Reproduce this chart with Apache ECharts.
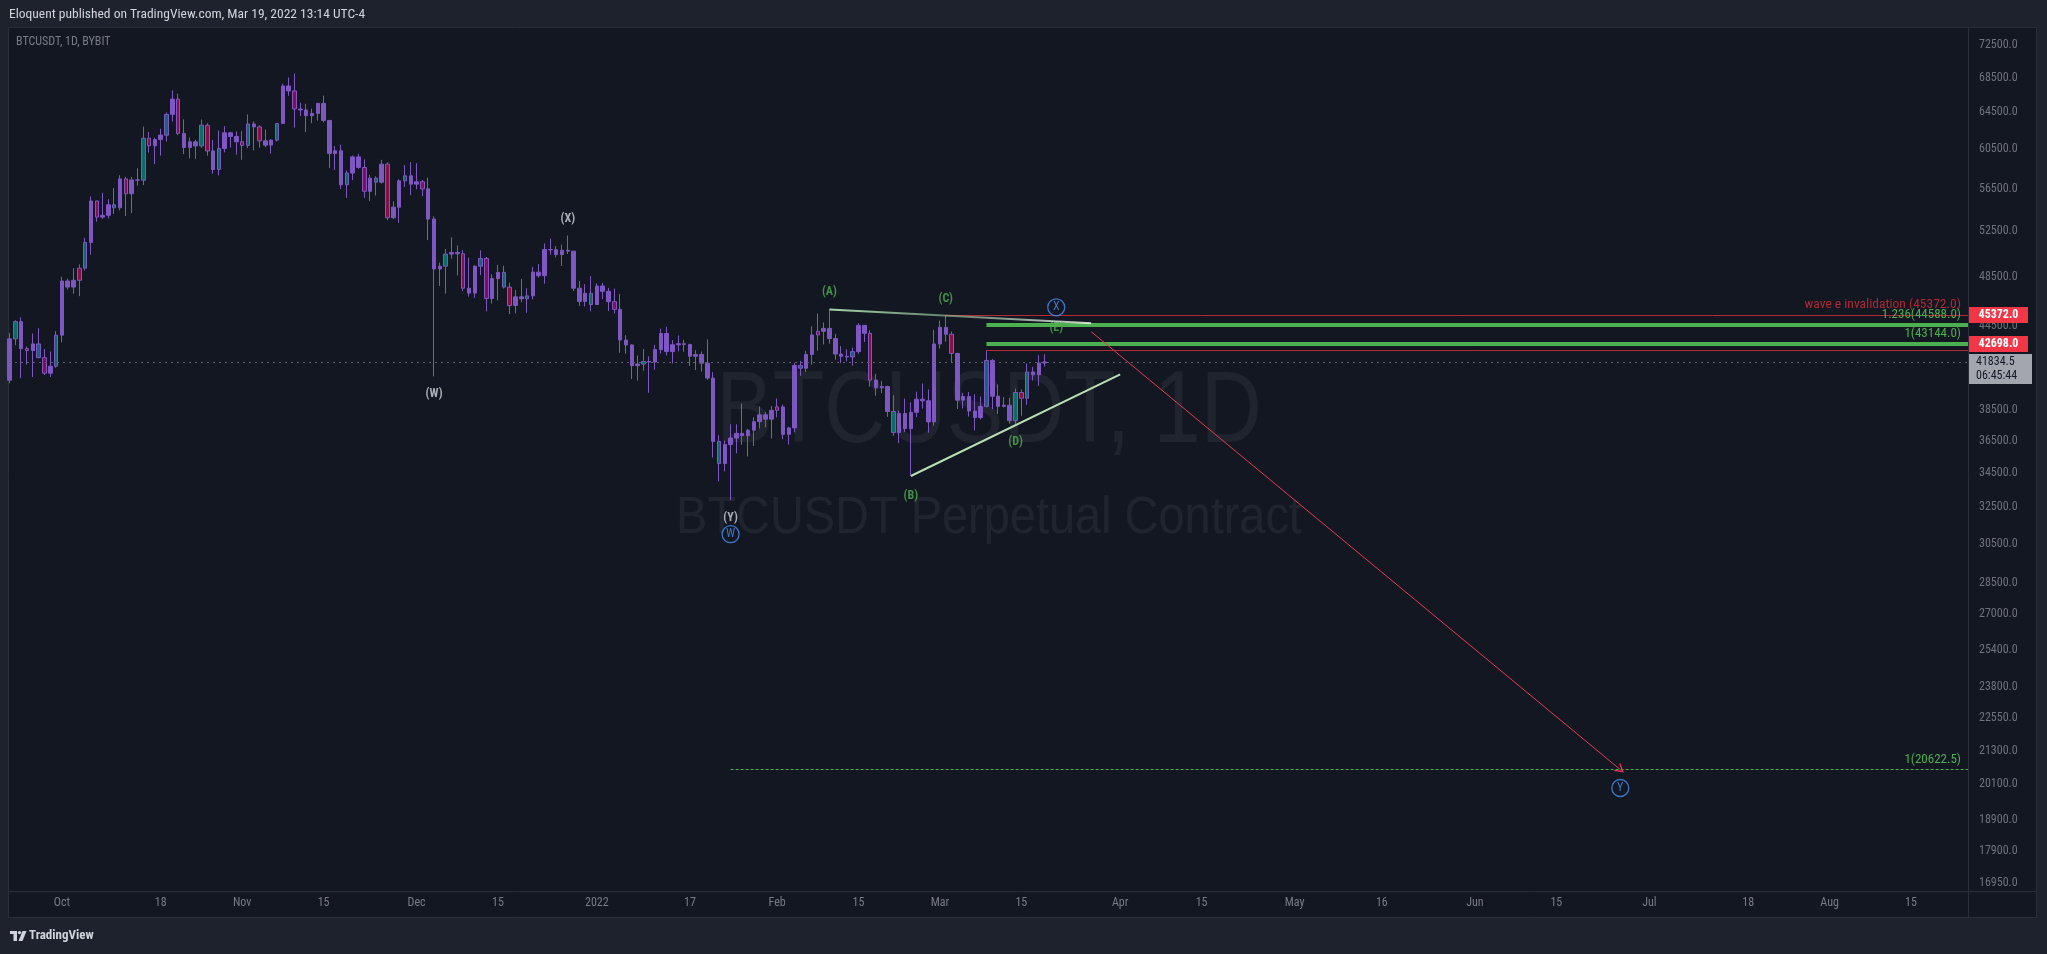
<!DOCTYPE html>
<html><head><meta charset="utf-8">
<script src="https://cdn.jsdelivr.net/npm/echarts@6/dist/echarts.min.js"></script>
<style>html,body{margin:0;padding:0;background:#1e222d;}#c{width:2047px;height:954px;}</style>
</head><body><div id="c"></div>
<script>
// ---------------- DATA ----------------
const firstDate = '2021-09-22';
const opens = [
 40527,43543,44865,42810,42670,43160,42147,41025,41524,
 43820,48141,47634,48200,49224,51471,55315,53785,53955,54949,54659,57471,56006,57370,57347,61673,60875,61528,62005,64280,66002,62193,60689,61286,60853,63078,60329,58413,60575,62253,61859,
 61300,60911,63220,62896,61396,60941,61470,63273,67525,66947,64883,64774,64123,64380,65519,63606,60058,60344,56891,58057,59707,58617,56247,57541,57139,58960,53723,54716,57274,57776,
 56950,57184,56485,53601,49152,49397,50441,50588,50472,47535,47141,49389,50053,46702,48336,48864,47632,46134,46834,46681,46914,48887,48588,50839,50820,50400,50776,50701,47544,46464,47121,
 46216,47722,47286,46446,45832,43451,43082,41566,41680,41864,41822,42735,43949,42592,43099,43178,43113,42251,42375,41744,40680,36445,35071,36244,36660,36958,36810,37160,37716,38166,37881,
 38466,38694,36897,37311,41571,41382,42380,43840,44118,44339,43565,42407,42244,42197,42586,44575,43961,40538,40000,40087,38386,37009,38250,37264,38333,39214,39106,37700,
 43160,44420,43892,42455,39148,39397,38420,37988,38730,41941,39422,38730,38807,37777,39671,39280,41114,40917,41757
];
const highs = [
 44000,44978,45200,42971,43950,44350,42787,42590,44132,
 48495,48336,49228,49536,51886,55750,55332,56100,55489,56561,57840,57680,57666,58532,62933,62350,61720,62695,64486,67000,66639,63732,61747,61500,63711,63293,61496,62499,62980,62359,62405,
 62437,64270,63500,63086,62603,61560,63286,67789,68524,69000,65600,65460,64915,65550,66401,63617,60840,60976,58320,59845,60029,59444,57875,57735,59398,59150,55280,57445,58865,59176,
 59053,57375,57600,53859,49699,50891,51936,51200,50797,50125,49485,50777,50189,48700,49500,49436,47995,47392,48300,47537,49328,49576,51375,51810,51156,51280,52088,50704,48139,47879,48548,
 47954,47990,47570,47510,47070,43816,43145,42300,42786,42248,43100,44322,44459,43448,43800,43475,43179,42690,42600,43505,41100,36835,36499,37550,37545,38919,37234,38000,38720,38359,38744,
 39265,38855,37387,41772,41913,42656,44500,45492,44799,45821,43920,43000,42760,42876,44751,44582,44200,40980,40480,40150,39491,38450,39250,39000,39727,40300,39880,44226,
 44950,45372,44096,42506,39650,39700,39549,39400,42698,42039,40236,39364,39310,39947,39887,41718,41478,42325,42400
];
const lows = [
 40300,43069,40675,41646,40750,42098,40888,40753,41410,
 43283,47430,47088,46891,49022,50382,53357,53617,53661,54080,54415,53879,54167,56818,56850,60150,58963,59844,61322,63481,62000,60000,59562,59510,60650,59818,58000,57820,60174,60673,59945,
 59405,60624,60382,60677,60721,60050,61322,63273,66382,62822,64100,62333,63303,63576,63400,58574,58373,56474,55600,57353,58486,55610,55317,55837,57000,53500,53610,53256,56666,55875,
 56458,55777,51680,40800,47727,47100,50039,48600,47320,46852,46751,48638,45672,46290,46547,47511,45456,45500,46406,45558,46630,48421,47920,50384,50142,49412,50449,47313,46096,46060,45678,
 46208,46654,45696,45500,42500,42430,40610,40501,41200,39650,41268,42450,42311,41725,42607,42581,41540,41250,41138,40553,35440,34008,34602,32918,35701,36234,35507,36155,37268,37351,36632,
 38000,36586,36250,37026,40843,41116,41645,42667,43117,43174,42000,41748,41870,41571,42428,43310,40073,39450,39639,38025,36800,36350,37036,34322,38013,38580,37000,37450,
 42811,43335,41832,38550,38587,38050,37155,37856,38657,38539,38223,38660,37578,37555,38098,38828,40500,40135,41500
];
const closes = [
 43543,44865,42810,42670,43160,42147,41026,41524,43824,
 48141,47634,48200,49224,51471,55315,53785,53951,54949,54659,57471,56006,57368,57347,61673,60875,61528,62010,64280,66002,62194,60688,61286,60853,63078,60329,58413,60575,62253,61859,61300,
 60911,63220,62896,61395,60937,61470,63273,67525,66947,64882,64774,64122,64380,65519,63606,60058,60344,56891,58052,59707,58622,56247,57541,57139,58960,53726,54721,57274,57776,56950,
 57184,56480,53601,49152,49396,50441,50588,50471,47545,47140,49389,50053,46702,48343,48864,47632,46131,46834,46681,46914,48890,48588,50839,50820,50400,50775,50701,47543,46464,47120,46216,
 47722,47286,46446,45832,43451,43082,41566,41679,41864,41822,42735,43949,42591,43099,43177,43113,42250,42375,41745,40680,36445,35071,36244,36660,36958,36810,37160,37716,38166,37881,38466,
 38694,36896,37311,41574,41382,42381,43840,44118,44338,43565,42407,42244,42197,42586,44575,43961,40538,40000,40087,38386,37009,38250,37264,38333,39214,39106,37700,43160,
 44420,43892,42454,39148,39397,38420,37988,38730,41941,39422,38730,38807,37777,39671,39280,41114,40917,41757,41834.5
];
// candle tone (p = plain, t = teal body, m = magenta body), month by month
const tones = ('ptpmptmpt' +
 'pppmtpmpptpmpptmpptpmppptmptppp' +
 'mtpmpptppmpppppppptppmptpmpptp' +
 'pmppptppmpptmpptmpptppppppppppt' +
 'pppmpppptppppppmppppptppppppppp' +
 'mppptppmppppptppmppptppppppp' +
 'ppmppppptpppptmtppp').split('');

const priceTicks = [72500,68500,64500,60500,56500,52500,48500,44500,38500,36500,34500,32500,30500,28500,27000,25400,23800,22550,21300,20100,18900,17900,16950];
const timeTickDates  = ['2021-10-01','2021-10-18','2021-11-01','2021-11-15','2021-12-01','2021-12-15','2022-01-01','2022-01-17','2022-02-01','2022-02-15','2022-03-01','2022-03-15','2022-04-01','2022-04-15','2022-05-01','2022-05-16','2022-06-01','2022-06-15','2022-07-01','2022-07-18','2022-08-01','2022-08-15'];
const timeTickLabels = ['Oct','18','Nov','15','Dec','15','2022','17','Feb','15','Mar','15','Apr','15','May','16','Jun','15','Jul','18','Aug','15'];

const waveText  = ['(W)','(X)','(Y)'];
const waveDate  = ['2021-12-04','2021-12-27','2022-01-24'];
const wavePrice = [39570,53580,31890];
const abcText  = ['(A)','(B)','(C)','(D)'];
const abcDate  = ['2022-02-10','2022-02-24','2022-03-02','2022-03-14'];
const abcPrice = [47230,33175,46640,36395];
const hiddenText = ['(E)'], hiddenDate = ['2022-03-21'], hiddenPrice = [44370];
const circText  = ['W','X','Y'];
const circDate  = ['2022-01-24','2022-03-21','2022-06-26'];
const circPrice = [31025,45993,19975];

const invalidation = 45372, invalidationFrom = '2022-03-02';
const fibLevels = [44588,43144], fibText = ['1.236(44588.0)','1(43144.0)'], fibFrom = '2022-03-09';
const lowerRed = 42698, lowerRedFrom = '2022-03-09';
const target = 20622.5, targetFrom = '2022-01-24';
const lastPrice = 41834.5, countdown = '06:45:44';
const upperEdge = [['2022-02-10',45821],['2022-03-27',44733]];
const lowerEdge = [['2022-02-24',34322],['2022-04-01',40935]];
const projection = [['2022-03-27',44094],['2022-06-26',20622.5]];

// ---------------- BUILD ----------------
const DAY = 86400000, t0 = Date.parse(firstDate + 'T00:00:00Z');
const dayOf = s => (Date.parse(s + 'T00:00:00Z') - t0) / DAY;
const X_MIN = -0.097, X_MAX = 336.8;
const FONT = "'Liberation Sans Narrow','Roboto Condensed',Roboto,'Liberation Sans',sans-serif";
const PURPLE = '#7e57c2';
const toneColor = {p: PURPLE, t: '#0b6b70', m: '#880e4f'};
const candles = opens.map((o, i) => {
  const c = toneColor[tones[i]] || PURPLE;
  return {value: [i, o, closes[i], lows[i], highs[i]],
    itemStyle: {color: c, color0: c, borderColor: PURPLE, borderColor0: PURPLE, borderColorDoji: PURPLE, borderWidth: 1}};
});
const tickDays = timeTickDates.map(dayOf);

const hLine = (from, value, style, label) => [
  {coord: [from, value], lineStyle: style, label: label || {show: false}, symbol: 'none'},
  {coord: [X_MAX, value], symbol: 'none'}
];
const markData = [
  hLine(X_MIN, lastPrice, {color: '#5d606b', width: 1, type: [2, 4]}),
  hLine(dayOf(targetFrom), target, {color: '#4caf50', width: 1, type: [3, 2]},
    {show: true, position: 'insideEndTop', formatter: '1(20622.5)', color: '#4caf50', fontSize: 13, fontFamily: FONT, distance: [7, 3]}),
  hLine(dayOf(invalidationFrom), invalidation, {color: '#b22833', width: 1, type: 'solid'},
    {show: true, position: 'insideEndTop', formatter: 'wave e invalidation (45372.0)', color: '#b22833', fontSize: 13.5, fontFamily: FONT, distance: [7, 4]}),
  hLine(dayOf(lowerRedFrom), lowerRed, {color: '#b22833', width: 1, type: 'solid'}),
  hLine(dayOf(fibFrom), fibLevels[0], {color: '#4caf50', width: 4, type: 'solid'},
    {show: true, position: 'insideEndTop', formatter: fibText[0], color: '#4caf50', fontSize: 13, fontFamily: FONT, distance: [7, 4]}),
  hLine(dayOf(fibFrom), fibLevels[1], {color: '#4caf50', width: 4, type: 'solid'},
    {show: true, position: 'insideEndTop', formatter: fibText[1], color: '#4caf50', fontSize: 13, fontFamily: FONT, distance: [7, 4]}),
  [{coord: [dayOf(upperEdge[0][0]), upperEdge[0][1]], symbol: 'none',
    lineStyle: {width: 2, type: 'solid', color: {type: 'linear', x: 0, y: 0, x2: 1, y2: 0,
      colorStops: [{offset: 0, color: '#a5d6a7'}, {offset: 0.45, color: 'rgba(165,214,167,0.55)'}, {offset: 1, color: 'rgba(240,248,240,0.85)'}]}}},
   {coord: [dayOf(upperEdge[1][0]), upperEdge[1][1]], symbol: 'none'}],
  [{coord: [dayOf(lowerEdge[0][0]), lowerEdge[0][1]], symbol: 'none', lineStyle: {width: 2, type: 'solid', color: '#b9e0b4'}},
   {coord: [dayOf(lowerEdge[1][0]), lowerEdge[1][1]], symbol: 'none'}],
  [{coord: [dayOf(projection[0][0]), projection[0][1]], symbol: 'none', lineStyle: {width: 1, type: 'solid', color: '#e53950'}},
   {coord: [dayOf(projection[1][0]), projection[1][1]], symbol: 'path://M5,0 L10,9 L8.8,9.8 L5,2.8 L1.2,9.8 L0,9 Z', symbolSize: [10, 9]}]
];

const textSeries = (texts, dates, prices, color, bold, z) => ({
  type: 'scatter', z: z, silent: true, symbol: 'circle', symbolSize: 1, itemStyle: {color: 'rgba(0,0,0,0)'},
  label: {show: true, position: 'inside', formatter: p => p.name, color: color, fontSize: 12, fontWeight: bold ? 'bold' : 'normal', fontFamily: FONT},
  data: texts.map((t, i) => ({name: t, value: [dayOf(dates[i]), prices[i]]}))
});

const option = {
  backgroundColor: '#1e222d',
  animation: false,
  grid: {left: 9, right: 79, top: 28, bottom: 63, outerBoundsMode: 'none', containLabel: false},
  xAxis: {
    type: 'value', min: X_MIN, max: X_MAX,
    axisLine: {show: false}, axisTick: {show: false}, splitLine: {show: false},
    axisLabel: {customValues: tickDays, color: '#787b86', fontSize: 12, fontFamily: FONT, margin: 6,
      formatter: v => { const k = tickDays.findIndex(d => Math.abs(d - v) < 0.01); return k >= 0 ? timeTickLabels[k] : ''; }}
  },
  yAxis: {
    type: 'log', logBase: 10, position: 'right', min: 16706, max: 74670,
    axisLine: {show: false}, axisTick: {show: false}, splitLine: {show: false}, minorSplitLine: {show: false},
    axisLabel: {customValues: priceTicks, color: '#6f727d', fontSize: 12, fontFamily: FONT, margin: 11, align: 'left',
      formatter: v => Number(v).toFixed(1)}
  },
  series: [
    {type: 'candlestick', z: 3, barWidth: 4, data: candles, clip: true,
     markLine: {silent: true, animation: false, symbol: ['none', 'none'], precision: 1, data: markData}},
    textSeries(hiddenText, hiddenDate, hiddenPrice, '#4caf50', true, 1),
    textSeries(waveText, waveDate, wavePrice, '#d1d4dc', true, 5),
    textSeries(abcText, abcDate, abcPrice, '#4caf50', true, 5),
    {type: 'scatter', z: 5, silent: true, symbol: 'circle', symbolSize: 17,
     itemStyle: {color: 'rgba(0,0,0,0)', borderColor: '#4a8ff0', borderWidth: 1.3},
     label: {show: true, position: 'inside', formatter: p => p.name, color: '#4a8ff0', fontSize: 12, fontFamily: FONT},
     data: circText.map((t, i) => ({name: t, value: [dayOf(circDate[i]), circPrice[i]]}))}
  ]
};

const chart = echarts.init(document.getElementById('c'), null, {renderer: 'canvas', width: 2047, height: 954});
chart.setOption(option);

// ---------------- CHROME + PRICE BADGES ----------------
const yPx = v => chart.convertToPixel({yAxisIndex: 0}, v);
const yInv = yPx(invalidation), yLast = yPx(lastPrice);
const grayTop = Math.round(yLast) - 8;
const yRed2 = Math.min(yPx(lowerRed) - 8, grayTop - 18);
const WM_FONT = "'Liberation Sans','Roboto',sans-serif";
const g = [
  {type: 'rect', id: 'pane', z: -10, shape: {x: 8.5, y: 27.5, width: 2028, height: 890}, style: {fill: '#131722', stroke: '#2a2e39', lineWidth: 1}},
  {type: 'line', id: 'sepV', z: -9, shape: {x1: 1968.5, y1: 28, x2: 1968.5, y2: 917}, style: {stroke: '#2a2e39', lineWidth: 1}},
  {type: 'line', id: 'sepH', z: -9, shape: {x1: 9, y1: 891.5, x2: 2036, y2: 891.5}, style: {stroke: '#2a2e39', lineWidth: 1}},
  {type: 'text', id: 'hdr', z: 1, style: {text: 'Eloquent published on TradingView.com, Mar 19, 2022 13:14 UTC-4', x: 9, y: 15, fill: '#d1d4dc', fontSize: 13.5, fontFamily: FONT, verticalAlign: 'middle'}},
  {type: 'text', id: 'sym', z: 1, style: {text: 'BTCUSDT, 1D, BYBIT', x: 16, y: 42, fill: '#787b86', fontSize: 12, fontFamily: FONT, verticalAlign: 'middle'}},
  {type: 'text', id: 'wm1', z: -5, x: 989, y: 414, scaleX: 0.83, style: {text: 'BTCUSDT, 1D', x: 0, y: 0, fill: 'rgba(255,255,255,0.06)', fontSize: 102, fontFamily: WM_FONT, align: 'center', verticalAlign: 'middle'}},
  {type: 'text', id: 'wm2', z: -5, x: 989, y: 519, scaleX: 0.92, style: {text: 'BTCUSDT Perpetual Contract', x: 0, y: 0, fill: 'rgba(255,255,255,0.06)', fontSize: 51, fontFamily: WM_FONT, align: 'center', verticalAlign: 'middle'}},
  {type: 'rect', id: 'b1', z: 20, shape: {x: 1969, y: Math.round(yInv) - 8, width: 59, height: 16}, style: {fill: '#f23645'}},
  {type: 'text', id: 'b1t', z: 21, style: {text: '45372.0', x: 1998.5, y: Math.round(yInv), fill: '#ffffff', fontSize: 12, fontWeight: 'bold', fontFamily: FONT, align: 'center', verticalAlign: 'middle'}},
  {type: 'rect', id: 'b2', z: 20, shape: {x: 1969, y: Math.round(yRed2), width: 59, height: 16}, style: {fill: '#f23645'}},
  {type: 'text', id: 'b2t', z: 21, style: {text: '42698.0', x: 1998.5, y: Math.round(yRed2) + 8, fill: '#ffffff', fontSize: 12, fontWeight: 'bold', fontFamily: FONT, align: 'center', verticalAlign: 'middle'}},
  {type: 'rect', id: 'b3', z: 20, shape: {x: 1969, y: grayTop, width: 63, height: 30}, style: {fill: '#a3a6af'}},
  {type: 'text', id: 'b3t', z: 21, style: {text: '41834.5', x: 1976, y: grayTop + 8, fill: '#131722', fontSize: 12, fontFamily: FONT, verticalAlign: 'middle'}},
  {type: 'text', id: 'b3c', z: 21, style: {text: countdown, x: 1976, y: grayTop + 22, fill: '#131722', fontSize: 12, fontFamily: FONT, verticalAlign: 'middle'}},
  {type: 'polygon', id: 'lg1', z: 1, shape: {points: [[10, 931], [17, 931], [17, 941], [13.5, 941], [13.5, 934], [10, 934]]}, style: {fill: '#d1d4dc'}},
  {type: 'circle', id: 'lg2', z: 1, shape: {cx: 19.5, cy: 932.6, r: 1.7}, style: {fill: '#d1d4dc'}},
  {type: 'polygon', id: 'lg3', z: 1, shape: {points: [[22.5, 931], [26.5, 931], [22.5, 941], [18.5, 941]]}, style: {fill: '#d1d4dc'}},
  {type: 'text', id: 'lgt', z: 1, style: {text: 'TradingView', x: 29, y: 936, fill: '#d1d4dc', fontSize: 13, fontWeight: 'bold', fontFamily: FONT, verticalAlign: 'middle'}}
];
chart.setOption({graphic: g});
</script>
</body></html>
